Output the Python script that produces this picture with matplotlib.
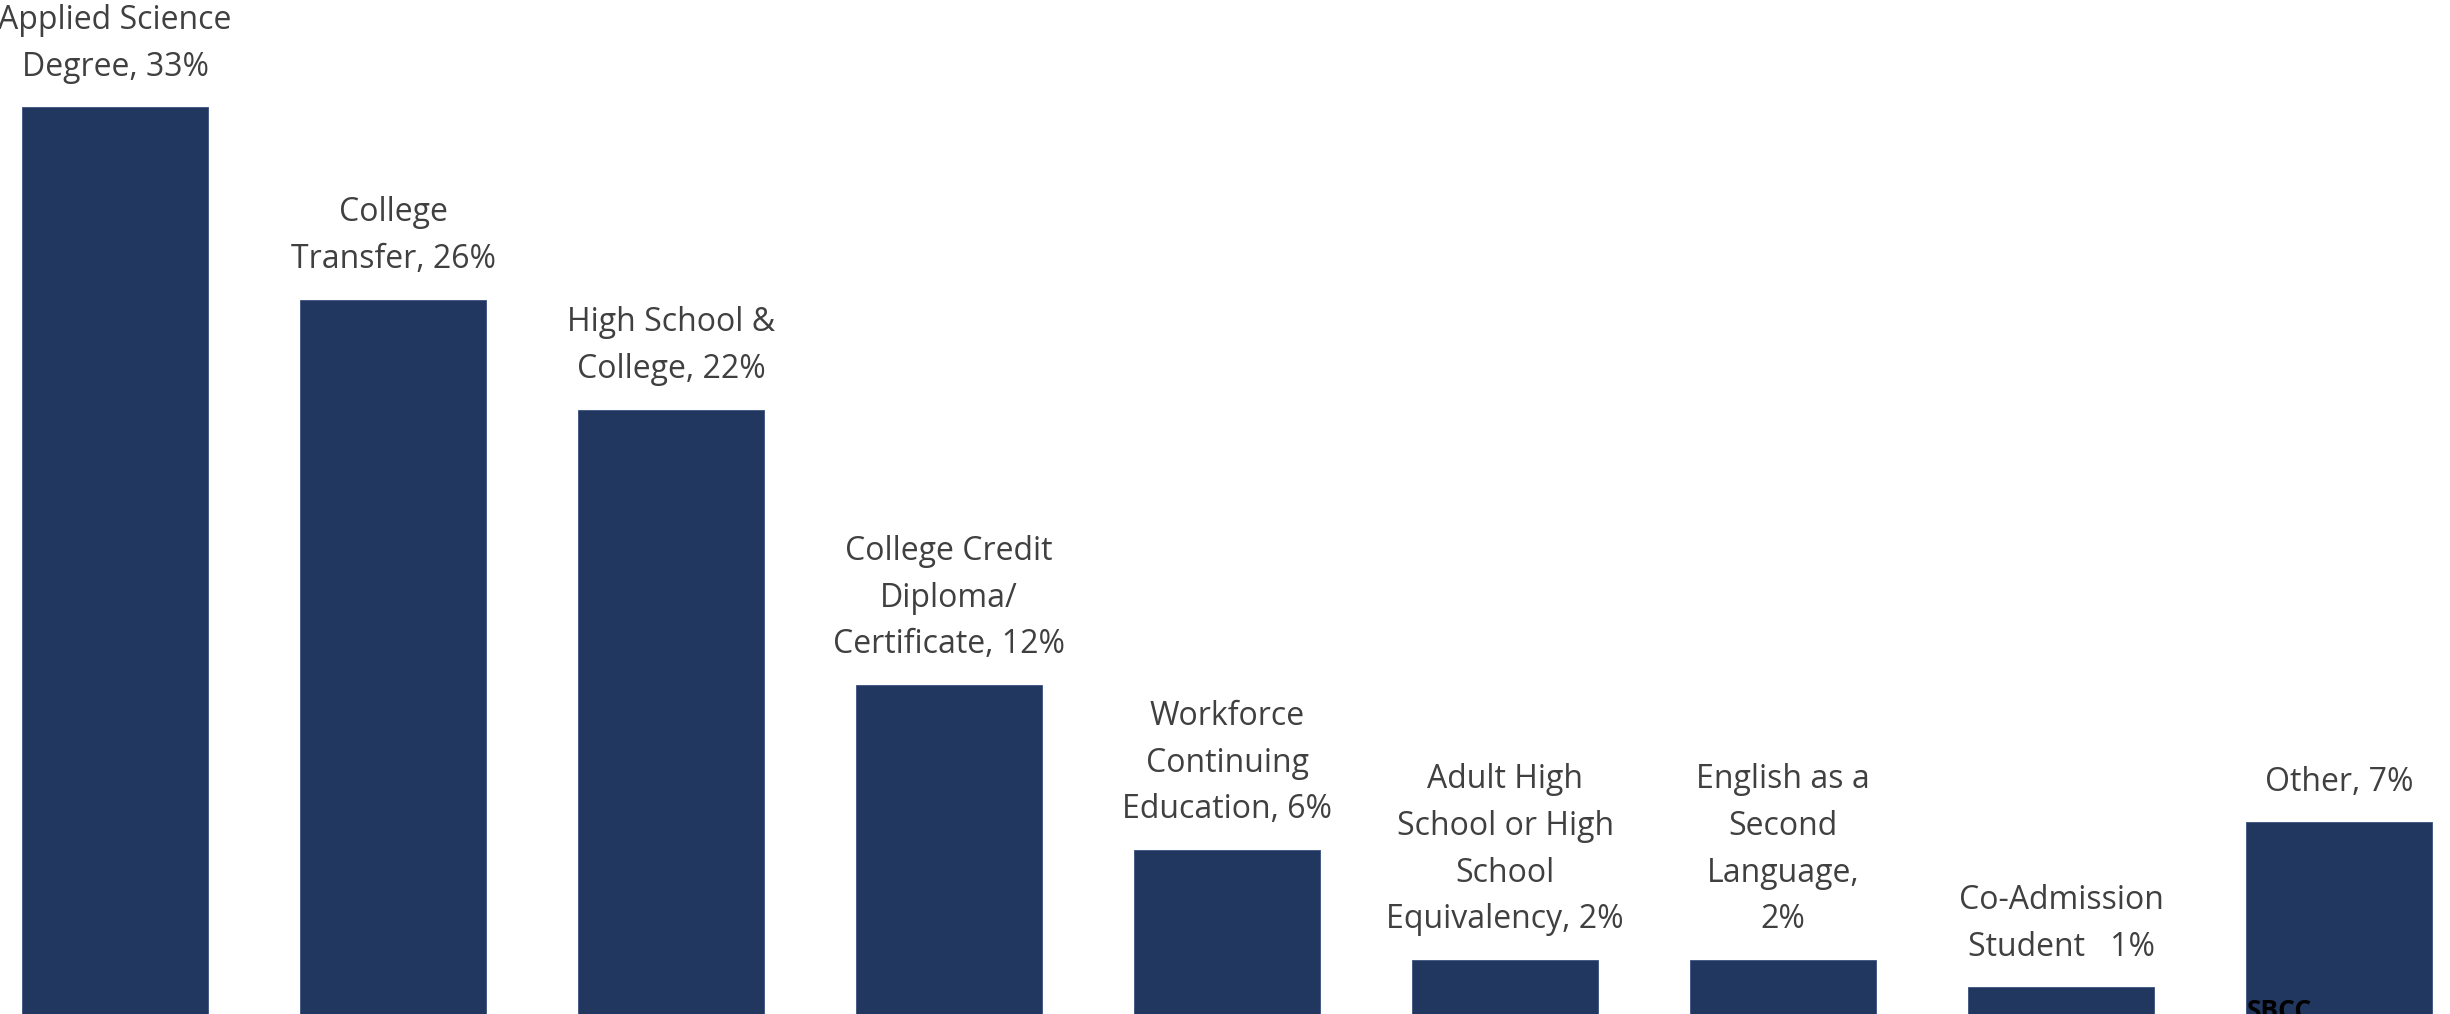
import matplotlib.pyplot as plt
import numpy as np

# dados do grafico
valores = [33, 26, 22, 12, 6, 2, 2, 1, 7]
rotulos = ['Applied Science\nDegree, 33%', 'College\nTransfer, 26%', 'High School &\nCollege, 22%',
           'College Credit\nDiploma/\nCertificate, 12%', 'Workforce\nContinuing\nEducation, 6%',
           'Adult High\nSchool or High\nSchool\nEquivalency, 2%', 'English as a\nSecond\nLanguage,\n2%',
           'Co-Admission\nStudent   1%', 'Other, 7%']

fig = plt.figure(figsize=(24.5, 10.14), dpi=100)
ax = fig.add_axes([0, 0, 1, 1])

x = np.arange(len(valores))
ax.bar(x, valores, width=0.67, color='#21375F', edgecolor='#3A5080', linewidth=0.6)

for xi, v, r in zip(x, valores, rotulos):
    ax.annotate(r, (xi, v), xytext=(0, 17), textcoords='offset points',
                ha='center', va='bottom', fontsize=23, color='#404040',
                family='Open Sans', linespacing=1.55)

ax.set_xlim(-0.414, 8.399)
ax.set_ylim(0.036, 36.9)
ax.axis('off')

fig.text(2247 / 2450, 1 - 998 / 1014, 'SBCC', ha='left', va='top',
         fontsize=19, fontweight='bold', color='black', family='Open Sans')

fig.savefig('out.png', dpi=100)
